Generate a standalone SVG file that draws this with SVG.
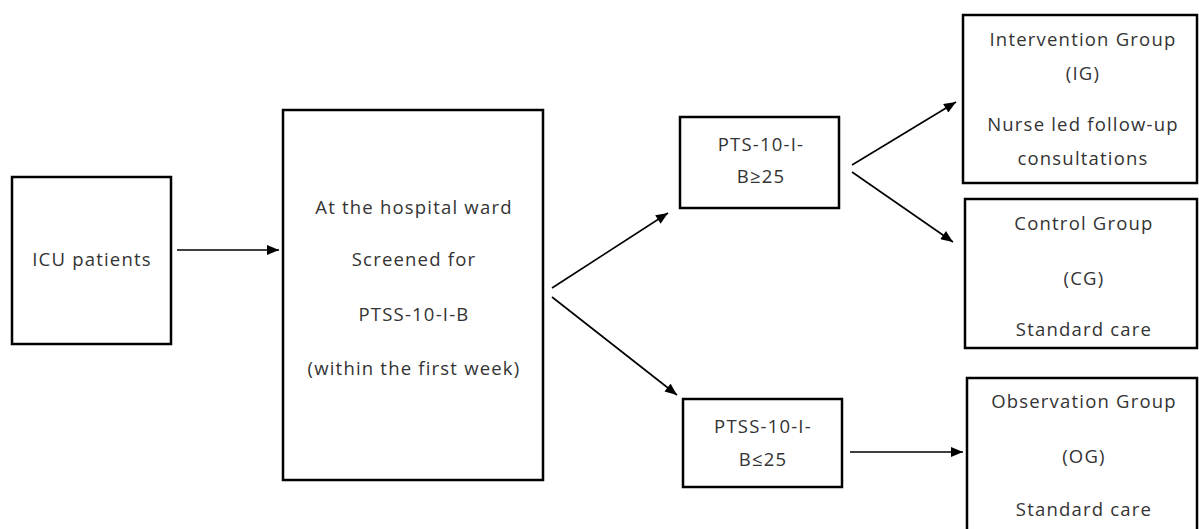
<svg xmlns="http://www.w3.org/2000/svg" width="1199" height="529" viewBox="0 0 1199 529">
<style>
.box{fill:#fff;stroke:#000;stroke-width:2.5}
.t{font-family:"Open Sans","Noto Sans",sans-serif;font-size:18.5px;letter-spacing:1.2px;fill:#333;text-anchor:middle;dominant-baseline:central}
.c{stroke:#000;stroke-width:1.6;fill:none;marker-end:url(#ah)}
</style>
<defs>
<marker id="ah" viewBox="0 0 12 10" refX="12" refY="5" markerWidth="13" markerHeight="10" markerUnits="userSpaceOnUse" orient="auto">
<path d="M0,0 L12,5 L0,10 z" fill="#000"/>
</marker>
</defs>
<rect width="1199" height="529" fill="#fff"/>
<g id="icu">
<rect class="box" x="12" y="177" width="159" height="167"/>
<text class="t" x="92" y="258">ICU patients</text>
</g>
<g id="hospital">
<rect class="box" x="283" y="110" width="260" height="370"/>
<text class="t" x="414" y="206">At the hospital ward</text>
<text class="t" x="414" y="258">Screened for</text>
<text class="t" x="414" y="313">PTSS-10-I-B</text>
<text class="t" x="414" y="367">(within the first week)</text>
</g>
<g id="high">
<rect class="box" x="680" y="117" width="159" height="91"/>
<text class="t" x="761" y="143">PTS-10-I-</text>
<text class="t" x="761" y="175">B≥25</text>
</g>
<g id="low">
<rect class="box" x="683" y="399" width="159" height="88"/>
<text class="t" x="763" y="425">PTSS-10-I-</text>
<text class="t" x="763" y="458">B≤25</text>
</g>
<g id="ig">
<rect class="box" x="963" y="15" width="234" height="168"/>
<text class="t" x="1083" y="38">Intervention Group</text>
<text class="t" x="1083" y="72">(IG)</text>
<text class="t" x="1083" y="123">Nurse led follow-up</text>
<text class="t" x="1083" y="157">consultations</text>
</g>
<g id="cg">
<rect class="box" x="965" y="199" width="232" height="149"/>
<text class="t" x="1084" y="222">Control Group</text>
<text class="t" x="1084" y="277">(CG)</text>
<text class="t" x="1084" y="328">Standard care</text>
</g>
<g id="og">
<rect class="box" x="967" y="378" width="230" height="160"/>
<text class="t" x="1084" y="400">Observation Group</text>
<text class="t" x="1084" y="455">(OG)</text>
<text class="t" x="1084" y="508">Standard care</text>
</g>
<g id="connectors">
<line class="c" x1="177" y1="250" x2="279" y2="250"/>
<line class="c" x1="552" y1="288" x2="668" y2="213"/>
<line class="c" x1="552" y1="297" x2="677" y2="395"/>
<line class="c" x1="852" y1="165" x2="956" y2="102"/>
<line class="c" x1="852" y1="172" x2="953" y2="242"/>
<line class="c" x1="850" y1="452" x2="963" y2="452"/>
</g>
</svg>
